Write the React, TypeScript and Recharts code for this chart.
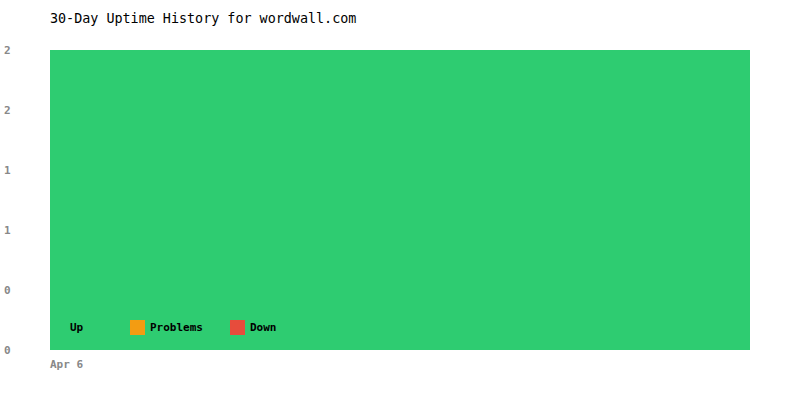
import React from 'react';
import { BarChart, Bar, XAxis, YAxis } from 'recharts';

const days = ['Apr 6'];
const upValues = [2];
const problemValues = [0];
const downValues = [0];
const yTicks = [0, 0.4, 0.8, 1.2, 1.6, 2];

const COLORS = { up: '#2ecc71', problems: '#f39c12', down: '#e74c3c' };
const FONT = '"DejaVu Sans Mono", "Liberation Mono", monospace';

const data = days.map((day, i) => ({
  day,
  up: upValues[i],
  problems: problemValues[i],
  down: downValues[i],
}));

const legendItems = [
  { name: 'Up', color: COLORS.up, width: 80 },
  { name: 'Problems', color: COLORS.problems, width: 100 },
  { name: 'Down', color: COLORS.down, width: 80 },
];

const XTick = (props: any) => {
  const { x, y, payload } = props;
  const start = x - (payload.offset || 0);
  return (
    <text x={start} y={y + 10} textAnchor="start" fill="#888" fontFamily={FONT} fontSize={11} fontWeight="bold">
      {payload.value}
    </text>
  );
};

const YTick = (props: any) => {
  const { y, payload } = props;
  return (
    <text x={4} y={y + 4} textAnchor="start" fill="#888" fontFamily={FONT} fontSize={11} fontWeight="bold">
      {Math.round(payload.value)}
    </text>
  );
};

export default function App() {
  return (
    <div style={{ position: 'absolute', left: 0, top: 0, width: 800, height: 400, background: '#fff' }}>
      <div style={{ position: 'absolute', left: 50, top: 11, fontFamily: FONT, fontSize: 13.4, color: '#000' }}>
        30-Day Uptime History for wordwall.com
      </div>
      <BarChart
        width={800}
        height={400}
        data={data}
        margin={{ top: 50, right: 50, bottom: 0, left: 0 }}
        barCategoryGap={0}
      >
        <XAxis dataKey="day" axisLine={false} tickLine={false} tick={<XTick />} height={50} />
        <YAxis
          width={50}
          domain={[0, 2]}
          ticks={yTicks}
          axisLine={false}
          tickLine={false}
          tick={<YTick />}
        />
        <Bar dataKey="up" stackId="a" fill={COLORS.up} isAnimationActive={false} />
        <Bar dataKey="problems" stackId="a" fill={COLORS.problems} isAnimationActive={false} />
        <Bar dataKey="down" stackId="a" fill={COLORS.down} isAnimationActive={false} />
      </BarChart>
      {/* legend sits on top of the plot, bottom-left */}
      <div style={{ position: 'absolute', left: 50, top: 320, display: 'flex', fontFamily: FONT, fontSize: 11, fontWeight: 'bold', color: '#000' }}>
        {legendItems.map(item => (
          <div key={item.name} style={{ display: 'flex', alignItems: 'center', width: item.width, height: 15 }}>
            <div style={{ width: 15, height: 15, backgroundColor: item.color, marginRight: 5 }}></div>
            <span>{item.name}</span>
          </div>
        ))}
      </div>
    </div>
  );
}
